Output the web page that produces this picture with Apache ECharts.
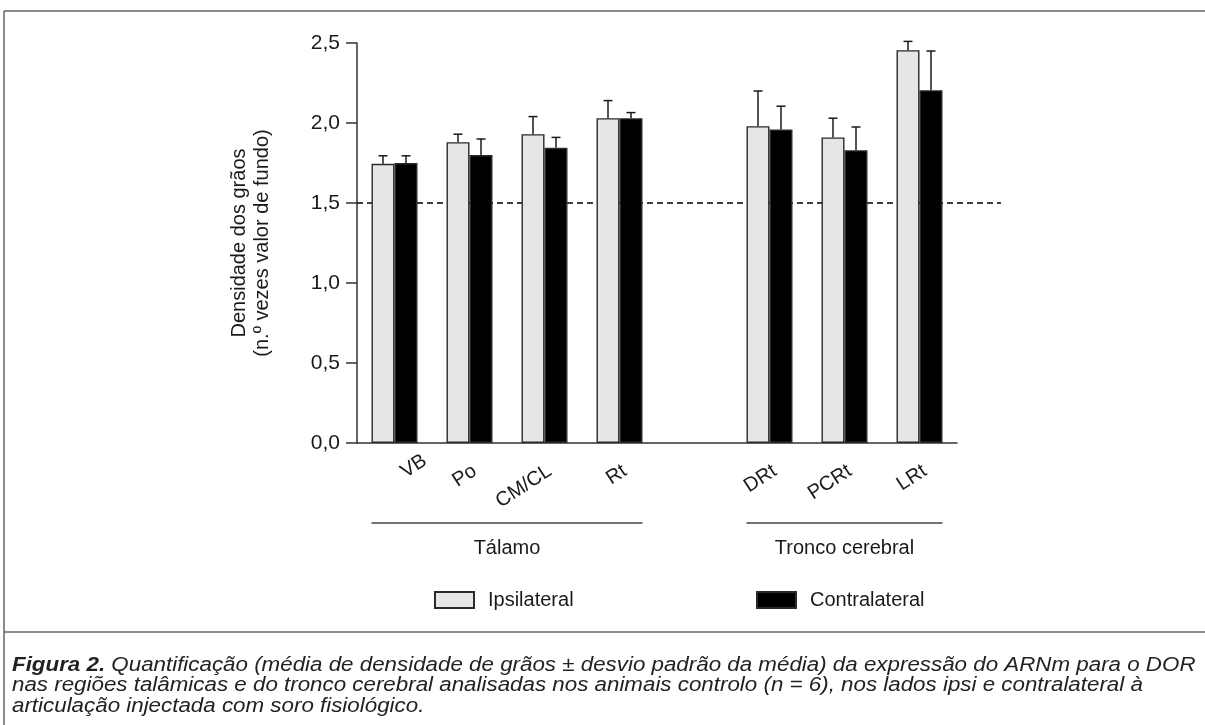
<!DOCTYPE html>
<html><head><meta charset="utf-8">
<script src="https://cdn.jsdelivr.net/npm/echarts@6/dist/echarts.min.js"></script>
<style>html,body{margin:0;padding:0;background:#fff}#c{width:1205px;height:725px}</style>
</head><body><div id="c"></div>
<script>
const categories = ['VB','Po','CM/CL','Rt','','DRt','PCRt','LRt'];
const ipsiMean   = [1.745, 1.88, 1.93, 2.03, null, 1.98, 1.91, 2.455];
const ipsiSD     = [0.05,  0.05, 0.11, 0.11, null, 0.22, 0.12, 0.055];
const contraMean = [1.75,  1.80, 1.845, 2.03, null, 1.96, 1.83, 2.205];
const contraSD   = [0.045, 0.10, 0.065, 0.035, null, 0.145, 0.145, 0.245];
const yMin = 0, yMax = 2.5, yStep = 0.5;
const baseline = 1.5;
const seriesNames = ['Ipsilateral', 'Contralateral'];
const groups = [
  {name: 'Tálamo', from: 'VB', to: 'Rt'},
  {name: 'Tronco cerebral', from: 'DRt', to: 'LRt'}
];
const yTitle = ['Densidade dos grãos', '(n.º vezes valor de fundo)'];
const captionBold = 'Figura 2.';
const captionLines = [
  ' Quantificação (média de densidade de grãos ± desvio padrão da média) da expressão do ARNm para o DOR',
  'nas regiões talâmicas e do tronco cerebral analisadas nos animais controlo (n = 6), nos lados ipsi e contralateral à',
  'articulação injectada com soro fisiológico.'
];

const FONT = "'Liberation Sans', Arial, Helvetica, sans-serif";
const BAR_W = 23;
const CAP = 4.5;
const INK = '#1a1a1a';

const chart = echarts.init(document.getElementById('c'), null, {renderer: 'canvas'});

function errRender(offset) {
  return function (params, api) {
    const i = api.value(0), m = api.value(1), s = api.value(2);
    const top = api.coord([i, m + s]);
    const base = api.coord([i, m]);
    const x = top[0] + offset;
    return {type: 'group', children: [
      {type: 'line', shape: {x1: x, y1: base[1], x2: x, y2: top[1]}, style: {stroke: INK, lineWidth: 1.5}},
      {type: 'line', shape: {x1: x - CAP, y1: top[1], x2: x + CAP, y2: top[1]}, style: {stroke: INK, lineWidth: 1.5}}
    ]};
  };
}
function errData(means, sds) {
  return means.map((m, i) => m == null ? null : [i, m, sds[i]]).filter(Boolean);
}

const option = {
  animation: false,
  backgroundColor: '#fff',
  textStyle: {fontFamily: FONT},
  legend: [
    {data: [seriesNames[0]], left: 429, top: 585, itemWidth: 39, itemHeight: 16, icon: 'rect',
     textStyle: {fontFamily: FONT, fontSize: 20, color: INK, padding: [0, 0, 0, 9]}},
    {data: [seriesNames[1]], left: 751, top: 585, itemWidth: 39, itemHeight: 16, icon: 'rect',
     textStyle: {fontFamily: FONT, fontSize: 20, color: INK, padding: [0, 0, 0, 9]}}
  ],
  grid: [
    {left: 357, top: 43, width: 600, height: 400},
    {left: 357, top: 43, width: 644, height: 400}
  ],
  xAxis: [
    {type: 'category', gridIndex: 0,
     data: categories.map(c => c === 'VB'
        ? {value: c, textStyle: {align: 'left', verticalAlign: 'top', padding: [5, 0, 0, 0]}} : c),
     axisLine: {lineStyle: {color: '#333', width: 1.5}},
     axisTick: {show: false},
     axisLabel: {rotate: 33, margin: 18, interval: 0, verticalAlign: 'top',
                 fontFamily: FONT, fontSize: 20, color: INK},
     splitLine: {show: false}},
    {type: 'value', gridIndex: 1, min: 0, max: 1, show: false}
  ],
  yAxis: [
    {type: 'value', gridIndex: 0, min: yMin, max: yMax, interval: yStep,
     name: yTitle.join('\n'), nameLocation: 'middle', nameGap: 83, nameRotate: 90,
     nameTextStyle: {fontFamily: FONT, fontSize: 20, color: INK, lineHeight: 23, align: 'center'},
     axisLine: {show: true, lineStyle: {color: '#333', width: 1.5}},
     axisTick: {show: true, length: 11, lineStyle: {color: '#333', width: 1.5}},
     axisLabel: {margin: 17, fontFamily: FONT, fontSize: 21, color: INK,
                 formatter: v => v.toFixed(1).replace('.', ',')},
     splitLine: {show: false}},
    {type: 'value', gridIndex: 1, min: yMin, max: yMax, show: false}
  ],
  series: [
    {name: 'baseline', type: 'line', xAxisIndex: 1, yAxisIndex: 1, z: 1, symbol: 'none', silent: true,
     data: [[0, baseline], [1, baseline]],
     lineStyle: {color: '#000', width: 1.5, type: [6, 4]}},
    {name: seriesNames[0], type: 'bar', xAxisIndex: 0, yAxisIndex: 0, barWidth: BAR_W, barGap: '0%', z: 3,
     data: ipsiMean, itemStyle: {color: '#e6e6e6', borderColor: '#2a2a2a', borderWidth: 1.4}},
    {name: seriesNames[1], type: 'bar', xAxisIndex: 0, yAxisIndex: 0, barWidth: BAR_W, barGap: '0%', z: 3,
     data: contraMean, itemStyle: {color: '#000', borderColor: '#2a2a2a', borderWidth: 1.4}},
    {name: 'errIpsi', type: 'custom', xAxisIndex: 0, yAxisIndex: 0, z: 4, silent: true,
     renderItem: errRender(-BAR_W / 2), data: errData(ipsiMean, ipsiSD), encode: {x: 0, y: 1}},
    {name: 'errContra', type: 'custom', xAxisIndex: 0, yAxisIndex: 0, z: 4, silent: true,
     renderItem: errRender(BAR_W / 2), data: errData(contraMean, contraSD), encode: {x: 0, y: 1}}
  ]
};
chart.setOption(option);

const capStyle = {fontFamily: FONT, fontSize: 20.5, fontStyle: 'italic', fontWeight: 'normal', fill: '#222', lineHeight: 20.5};

// frame, caption and group brackets
const gfx = [
  {type: 'line', shape: {x1: 4, y1: 11, x2: 1205, y2: 11}, style: {stroke: '#666', lineWidth: 1.5}},
  {type: 'line', shape: {x1: 4, y1: 11, x2: 4, y2: 725}, style: {stroke: '#666', lineWidth: 1.5}},
  {type: 'line', shape: {x1: 4, y1: 632, x2: 1205, y2: 632}, style: {stroke: '#666', lineWidth: 1.5}},
  {type: 'text', x: 12, y: 655, scaleX: 1.09, scaleY: 1,
   style: {
     text: '{b|' + captionBold + '}{i|' + captionLines[0] + '}\n{i|' + captionLines[1] + '}\n{i|' + captionLines[2] + '}',
     fontFamily: FONT, fontSize: 20.5, fontStyle: 'italic', lineHeight: 20.5, fill: '#222',
     rich: {b: Object.assign({}, capStyle, {fontWeight: 'bold'}), i: capStyle}
   }}
];
groups.forEach(g => {
  const x1 = chart.convertToPixel({xAxisIndex: 0}, g.from) - BAR_W;
  const x2 = chart.convertToPixel({xAxisIndex: 0}, g.to) + BAR_W;
  gfx.push({type: 'line', shape: {x1: x1, y1: 523, x2: x2, y2: 523}, style: {stroke: '#444', lineWidth: 1.5}});
  gfx.push({type: 'text', x: (x1 + x2) / 2, y: 548,
            style: {text: g.name, fontFamily: FONT, fontSize: 20, fill: INK, align: 'center', verticalAlign: 'middle'}});
});
chart.setOption({graphic: gfx});
</script></body></html>
